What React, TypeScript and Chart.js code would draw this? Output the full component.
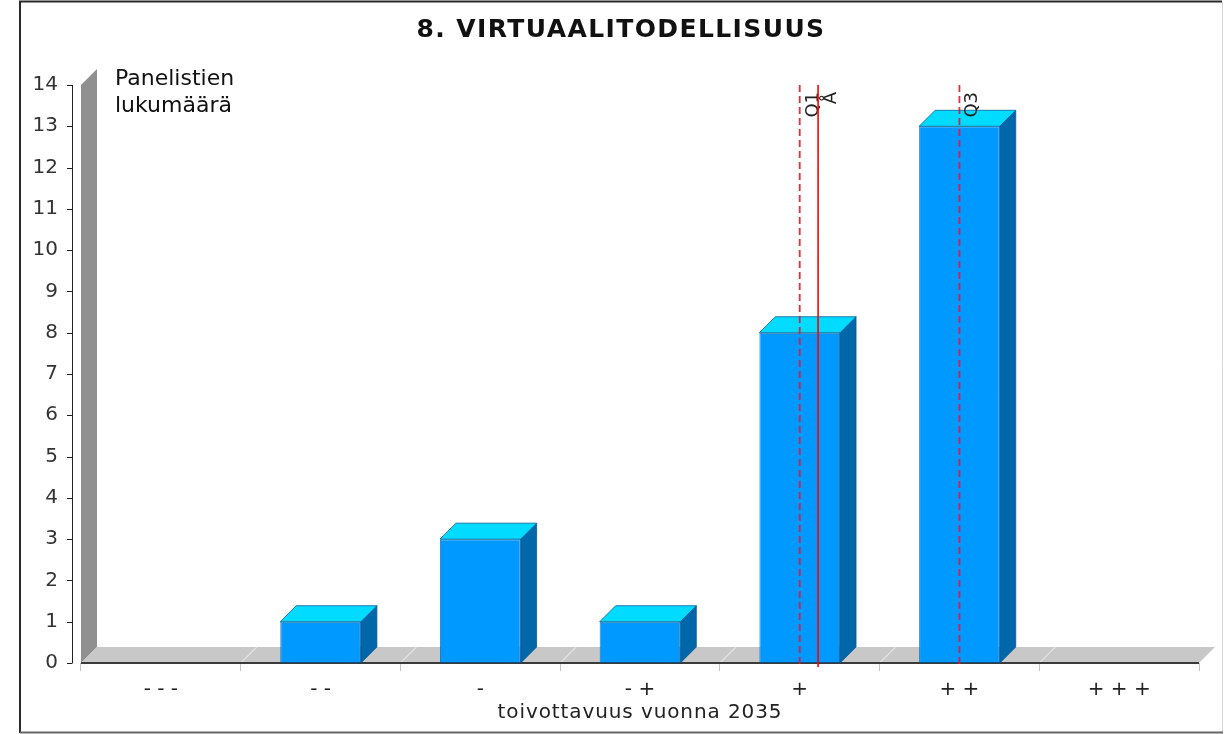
import React, { useEffect, useRef } from 'react';
import { Chart, registerables } from 'chart.js';

Chart.register(...registerables);

// ---------- data ----------
const TITLE = '8. VIRTUAALITODELLISUUS';
const CATEGORIES = ['- - -', '- -', '-', '- +', '+', '+ +', '+ + +'];
const COUNTS = [0, 1, 3, 1, 8, 13, 0];
const Y_MIN = 0;
const Y_MAX = 14;
const Y_STEP = 1;
const Y_AXIS_LABEL = ['Panelistien', 'lukumäärä'];
const X_AXIS_LABEL = 'toivottavuus vuonna 2035';
// marker positions on the 1..7 rating scale (category index + 1)
const MARKER_LABELS = ['Q1', 'Å', 'Q3'];
const MARKER_VALUES = [5, 5.115, 6];
const MARKER_DASHED = [true, false, true];

// ---------- style ----------
const FONT = '"DejaVu Sans", Verdana, sans-serif';
const DX = 16;
const DY = 16;
const FRONT = '#0099ff';
const TOP = '#00dbff';
const SIDE = '#0067ab';
const EDGE = 'rgba(0,85,150,0.75)';
const WALL = '#909090';
const FLOOR = '#c8c8c8';

const threeD = {
  id: 'threeD',
  beforeDatasetsDraw(chart: any) {
    const { ctx, chartArea: a, scales } = chart;
    const x = scales.x;
    const y = scales.y;
    const y0 = y.getPixelForValue(Y_MIN);
    const yt = y.getPixelForValue(Y_MAX);
    ctx.save();
    // back wall
    ctx.fillStyle = WALL;
    ctx.beginPath();
    ctx.moveTo(a.left, yt);
    ctx.lineTo(a.left + DX, yt - DY);
    ctx.lineTo(a.left + DX, y0 - DY);
    ctx.lineTo(a.left, y0);
    ctx.closePath();
    ctx.fill();
    // floor
    ctx.fillStyle = FLOOR;
    ctx.beginPath();
    ctx.moveTo(a.left, y0);
    ctx.lineTo(a.right, y0);
    ctx.lineTo(a.right + DX, y0 - DY);
    ctx.lineTo(a.left + DX, y0 - DY);
    ctx.closePath();
    ctx.fill();
    // floor divider lines
    ctx.strokeStyle = '#e2e2e2';
    ctx.lineWidth = 1.2;
    for (let i = 1; i < CATEGORIES.length; i++) {
      const xb = x.getPixelForValue(i - 0.5);
      ctx.beginPath();
      ctx.moveTo(xb, y0);
      ctx.lineTo(xb + DX, y0 - DY);
      ctx.stroke();
    }
    // front floor edge
    ctx.strokeStyle = '#3a3a3a';
    ctx.lineWidth = 2;
    ctx.beginPath();
    ctx.moveTo(a.left, y0);
    ctx.lineTo(a.right, y0);
    ctx.stroke();
    ctx.restore();
  },
  afterDatasetsDraw(chart: any) {
    const { ctx, chartArea: a, scales } = chart;
    const x = scales.x;
    const y = scales.y;
    const y0 = y.getPixelForValue(Y_MIN);
    const yt = y.getPixelForValue(Y_MAX);
    ctx.save();
    // 3D faces of bars
    const meta = chart.getDatasetMeta(0);
    meta.data.forEach((bar: any, i: number) => {
      if (!(COUNTS[i] > 0)) return;
      const p = bar.getProps(['x', 'y', 'base', 'width'], true);
      const l = p.x - p.width / 2;
      const r = p.x + p.width / 2;
      const top = p.y;
      const base = p.base;
      ctx.lineWidth = 1;
      ctx.strokeStyle = EDGE;
      ctx.fillStyle = SIDE;
      ctx.beginPath();
      ctx.moveTo(r, top);
      ctx.lineTo(r + DX, top - DY);
      ctx.lineTo(r + DX, base - DY);
      ctx.lineTo(r, base);
      ctx.closePath();
      ctx.fill();
      ctx.stroke();
      ctx.fillStyle = TOP;
      ctx.beginPath();
      ctx.moveTo(l, top);
      ctx.lineTo(l + DX, top - DY);
      ctx.lineTo(r + DX, top - DY);
      ctx.lineTo(r, top);
      ctx.closePath();
      ctx.fill();
      ctx.stroke();
    });

    // markers
    MARKER_VALUES.forEach((v, i) => {
      const xm = x.getPixelForValue(v - 1);
      ctx.save();
      ctx.beginPath();
      if (MARKER_DASHED[i]) {
        ctx.setLineDash([7, 4]);
        ctx.strokeStyle = 'rgba(235,20,40,0.9)';
        ctx.lineWidth = 1.8;
      } else {
        ctx.setLineDash([]);
        ctx.strokeStyle = '#ff0000';
        ctx.lineWidth = 1.6;
      }
      ctx.moveTo(xm, yt);
      ctx.lineTo(xm, y0 + 4);
      ctx.stroke();
      ctx.restore();
      ctx.save();
      ctx.translate(xm + 18, 92);
      ctx.rotate(-Math.PI / 2);
      ctx.font = '18px ' + FONT;
      ctx.fillStyle = '#222';
      ctx.textAlign = 'right';
      ctx.textBaseline = 'alphabetic';
      ctx.fillText(MARKER_LABELS[i], 0, 0);
      ctx.restore();
    });

    // value axis line and ticks
    const ax = a.left - 9;
    ctx.strokeStyle = '#222';
    ctx.lineWidth = 1;
    ctx.beginPath();
    ctx.moveTo(ax + 0.5, yt);
    ctx.lineTo(ax + 0.5, y0);
    ctx.stroke();
    for (let v = Y_MIN; v <= Y_MAX; v += Y_STEP) {
      const yy = Math.round(y.getPixelForValue(v)) + 0.5;
      ctx.beginPath();
      ctx.moveTo(ax - 5, yy);
      ctx.lineTo(ax + 0.5, yy);
      ctx.stroke();
    }
    ctx.restore();
  },
  afterDraw(chart: any) {
    const { ctx, chartArea: a } = chart;
    ctx.save();
    // title
    ctx.font = 'bold 25px ' + FONT;
    (ctx as any).letterSpacing = '1.4px';
    ctx.fillStyle = '#111';
    ctx.textAlign = 'center';
    ctx.textBaseline = 'alphabetic';
    ctx.fillText(TITLE, 621, 37);
    // axis title
    ctx.font = '20px ' + FONT;
    (ctx as any).letterSpacing = '0.9px';
    ctx.fillStyle = '#222';
    ctx.fillText(X_AXIS_LABEL, (a.left + a.right) / 2, 718);
    (ctx as any).letterSpacing = '0px';
    // y axis label inside plot
    ctx.font = '22px ' + FONT;
    ctx.textAlign = 'left';
    ctx.fillStyle = '#111';
    ctx.fillText(Y_AXIS_LABEL[0], 115, 85);
    ctx.fillText(Y_AXIS_LABEL[1], 115, 111.5);
    // frame
    ctx.lineWidth = 2;
    ctx.strokeStyle = '#2a2a2a';
    ctx.beginPath();
    ctx.moveTo(20, 733);
    ctx.lineTo(20, 1.5);
    ctx.lineTo(1222, 1.5);
    ctx.stroke();
    ctx.strokeStyle = '#d8d8d8';
    ctx.lineWidth = 1;
    ctx.beginPath();
    ctx.moveTo(1222.5, 1.5);
    ctx.lineTo(1222.5, 732);
    ctx.stroke();
    ctx.strokeStyle = '#666';
    ctx.lineWidth = 2;
    ctx.beginPath();
    ctx.moveTo(20, 732.5);
    ctx.lineTo(1223, 732.5);
    ctx.stroke();
    ctx.restore();
  },
};

export default function App() {
  const ref = useRef<HTMLCanvasElement | null>(null);
  useEffect(() => {
    if (!ref.current) return;
    Chart.defaults.font.family = FONT;
    const chart = new Chart(ref.current, {
      type: 'bar',
      data: {
        labels: CATEGORIES,
        datasets: [
          {
            data: COUNTS,
            backgroundColor: FRONT,
            borderColor: EDGE,
            borderWidth: 1,
            borderSkipped: false,
            barPercentage: 1,
            categoryPercentage: 0.505,
          },
        ],
      },
      options: {
        responsive: false,
        animation: false,
        events: [],
        layout: { padding: { left: 0, top: 85, right: 25, bottom: 0 } },
        plugins: {
          legend: { display: false },
          title: { display: false },
          tooltip: { enabled: false },
        },
        scales: {
          x: {
            type: 'category',
            offset: true,
            grid: {
              display: true,
              drawOnChartArea: false,
              drawTicks: true,
              tickLength: 8,
              color: '#c4c4c4',
              offset: true,
            },
            border: { display: false },
            ticks: {
              font: { size: 20 },
              color: '#222',
              padding: 7,
              maxRotation: 0,
              autoSkip: false,
            },
            afterFit(s: any) {
              s.height = 71;
            },
          },
          y: {
            min: Y_MIN,
            max: Y_MAX,
            ticks: { stepSize: Y_STEP, font: { size: 20 }, color: '#333', padding: 23 },
            grid: { display: false, drawTicks: false },
            border: { display: false },
            afterFit(s: any) {
              s.width = 81;
            },
          },
        },
      },
      plugins: [threeD],
    } as any);
    return () => chart.destroy();
  }, []);
  return (
    <div style={{ position: 'fixed', left: 0, top: 0, width: 1224, height: 734, background: '#fff' }}>
      <canvas ref={ref} width={1224} height={734} />
    </div>
  );
}
